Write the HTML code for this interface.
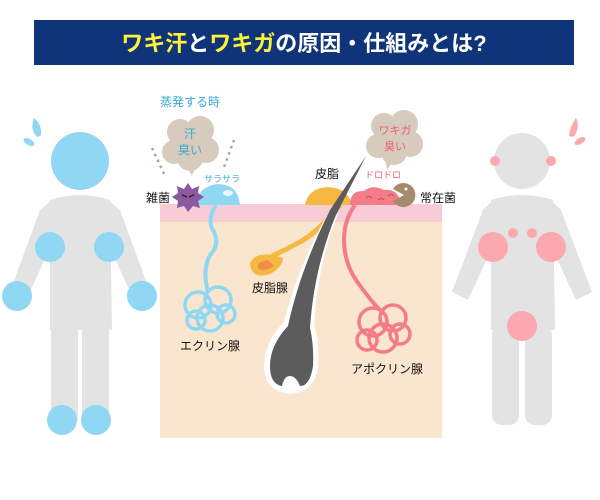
<!DOCTYPE html>
<html><head><meta charset="utf-8"><style>
html,body{margin:0;padding:0;background:#fff;width:600px;height:500px;overflow:hidden}
svg{display:block}
text{font-family:"Liberation Sans","Noto Sans CJK JP",sans-serif}
</style></head><body>
<svg width="600" height="500" viewBox="0 0 600 500" xmlns="http://www.w3.org/2000/svg">
<rect x="34" y="20" width="540" height="45" fill="#0f3479"/>
<text x="304" y="51" text-anchor="middle" font-size="22" font-weight="bold" fill="#fff"><tspan fill="#fff23a">ワキ汗</tspan>と<tspan fill="#fff23a">ワキガ</tspan>の原因・仕組みとは?</text>

<g fill="#e3e3e3">
<path d="M50 200 Q80 190 110 200 L112 330 L50 330 Z"/>
<path d="M52 200 L40 210 L10 292 L26 300 L56 235 Z"/>
<path d="M108 200 L120 210 L150 292 L134 300 L104 235 Z"/>
<rect x="51" y="325" width="27" height="98" rx="4"/>
<rect x="82" y="325" width="27" height="98" rx="4"/>
</g>
<g fill="#8fd7f3">
<circle cx="80" cy="161" r="29"/>
<circle cx="50" cy="247" r="15"/><circle cx="109" cy="247" r="15"/>
<circle cx="17" cy="296" r="15"/><circle cx="142" cy="296" r="15"/>
<circle cx="62" cy="420" r="15"/><circle cx="96" cy="420" r="15"/>
<path d="M34 118 Q42 124 41 135 Q38 138 36 136 Q30 128 34 118Z"/>
<ellipse cx="29" cy="142" rx="6" ry="3" transform="rotate(30 29 142)"/>
</g>

<g fill="#e3e3e3">
<circle cx="522" cy="161" r="28"/>
<path d="M491 200 Q522 190 553 200 L555 330 L491 330 Z"/>
<path d="M493 200 L483 210 L452 292 L468 300 L498 235 Z"/>
<path d="M551 200 L561 210 L592 292 L576 300 L546 235 Z"/>
<rect x="492" y="325" width="27" height="100" rx="10"/>
<rect x="525" y="325" width="27" height="100" rx="10"/>
</g>
<g fill="#fba8ae">
<circle cx="495" cy="161" r="5"/><circle cx="551" cy="161" r="5"/>
<circle cx="493" cy="247" r="15"/><circle cx="551" cy="247" r="15"/>
<circle cx="513" cy="233" r="5"/><circle cx="532" cy="233" r="5"/>
<circle cx="522" cy="326" r="15"/>
<path d="M576 118 Q570 126 569 136 Q573 138 575 135 Q580 126 576 118Z"/>
<ellipse cx="580" cy="141" rx="6" ry="3" transform="rotate(-30 580 141)"/>
</g>

<rect x="160" y="204" width="282" height="234" fill="#fae6cf"/>
<rect x="160" y="204" width="282" height="18" fill="#f7ccd6"/>

<!-- eccrine -->
<path d="M216 205 Q206 220 214 232 Q220 245 210 255 Q202 270 208 292" fill="none" stroke="#8fd7f3" stroke-width="4"/>
<g fill="none" stroke="#8fd7f3" stroke-width="3.5">
<circle cx="198" cy="305" r="13"/><circle cx="218" cy="300" r="13"/><circle cx="210" cy="318" r="13"/><circle cx="226" cy="314" r="9"/><circle cx="196" cy="320" r="9"/>
</g>
<path d="M196 205 Q198 186 218 184 Q238 184 240 205 Z" fill="#8fd7f3"/>
<ellipse cx="228" cy="193" rx="5" ry="3" fill="#fff" opacity="0.8"/>
<polygon points="188,183 192,189 199,186 198,193 204,197 198,201 200,208 193,206 188,212 184,206 177,208 178,201 172,197 178,193 177,186 184,189" fill="#8a5aa0"/>
<path d="M182 195 L187 197 M194 195 L189 197" stroke="#3a2040" stroke-width="1.5"/>

<g fill="#d6cbbd">
<circle cx="180" cy="132" r="13"/><circle cx="200" cy="130" r="14"/><circle cx="174" cy="152" r="12"/><circle cx="206" cy="150" r="13"/><circle cx="190" cy="158" r="13"/><circle cx="190" cy="140" r="18"/>
<polygon points="186,165 196,165 192,176"/>
</g>
<text x="190" y="138" text-anchor="middle" font-size="12" fill="#3aa8d8">汗</text>
<text x="190" y="154" text-anchor="middle" font-size="12" fill="#3aa8d8">臭い</text>
<path d="M152 148 L165 176 M234 140 L223 170" stroke="#b4a68f" stroke-width="2.5" stroke-dasharray="2.5 4"/>
<text x="190" y="106" text-anchor="middle" font-size="12" fill="#3aa8d8">蒸発する時</text>
<text x="222" y="182" text-anchor="middle" font-size="9" fill="#3aa8d8">サラサラ</text>
<text x="158" y="202" text-anchor="middle" font-size="12" fill="#111">雑菌</text>

<!-- sebaceous -->
<path d="M340 205 Q318 232 300 242 Q285 250 272 256" fill="none" stroke="#f5b942" stroke-width="5"/>
<path d="M274 255 Q254 252 250 264 Q252 280 270 274 Q282 268 283 258 Z" fill="#f5b942"/>
<path d="M268 260 Q256 262 258 268 Q262 273 274 266 Z" fill="#f28c4a"/>
<path d="M305 205 Q308 188 328 187 Q348 188 352 205 Z" fill="#f5b942"/>
<!-- apocrine -->
<path d="M355 205 Q344 220 344 240 Q344 262 356 280 Q370 300 380 310" fill="none" stroke="#f37c87" stroke-width="4"/>
<g fill="none" stroke="#f37c87" stroke-width="3.5">
<circle cx="373" cy="322" r="14"/><circle cx="393" cy="318" r="13"/><circle cx="383" cy="338" r="14"/><circle cx="400" cy="334" r="10"/><circle cx="367" cy="340" r="10"/>
</g>
<path d="M350 205 Q350 190 364 191 Q372 184 384 190 Q398 188 402 205 Z" fill="#f37c87"/>
<path d="M366 198 q3 -3 6 0 M378 200 q3 -3 6 0 M388 196 q3 -3 6 0" stroke="#c94a5a" fill="none" stroke-width="1"/>
<!-- hair -->
<path d="M338 214 Q318 262 314 325 Q320 342 318 368 Q314 392 290 394 Q266 392 264 368 Q264 342 284 322 Q298 265 330 210 Z" fill="#fff"/>
<path d="M366 156 L336 215 Q314 268 310 328 Q314 345 313 366 Q310 386 300 386 Q296 376 290 376 Q284 376 282 386 Q270 384 270 366 Q270 345 288 326 Q300 270 330 210 Z" fill="#5c5c5c"/>
<circle cx="290" cy="382" r="5" fill="#fff"/>
<!-- pacman -->
<path d="M404 195 L393 189 A12 12 0 1 1 393 201 Z" fill="#a58a6e"/>
<circle cx="406" cy="189" r="1.5" fill="#fff"/>

<g fill="#d6cbbd">
<circle cx="384" cy="126" r="13"/><circle cx="404" cy="124" r="14"/><circle cx="378" cy="146" r="12"/><circle cx="410" cy="144" r="13"/><circle cx="394" cy="152" r="13"/><circle cx="394" cy="136" r="18"/>
<polygon points="385,158 395,158 387,170"/>
</g>
<text x="395" y="134" text-anchor="middle" font-size="11" fill="#ec5f72">ワキガ</text>
<text x="395" y="150" text-anchor="middle" font-size="11" fill="#ec5f72">臭い</text>

<text x="327" y="178" text-anchor="middle" font-size="12" fill="#111">皮脂</text>
<text x="383" y="178" text-anchor="middle" font-size="9" fill="#ec5f72">ドロドロ</text>
<text x="438" y="202" text-anchor="middle" font-size="12" fill="#111">常在菌</text>
<text x="270" y="292" text-anchor="middle" font-size="12" fill="#111">皮脂腺</text>
<text x="210" y="350" text-anchor="middle" font-size="12" fill="#111">エクリン腺</text>
<text x="387" y="373" text-anchor="middle" font-size="12" fill="#111">アポクリン腺</text>
</svg>
</body></html>
